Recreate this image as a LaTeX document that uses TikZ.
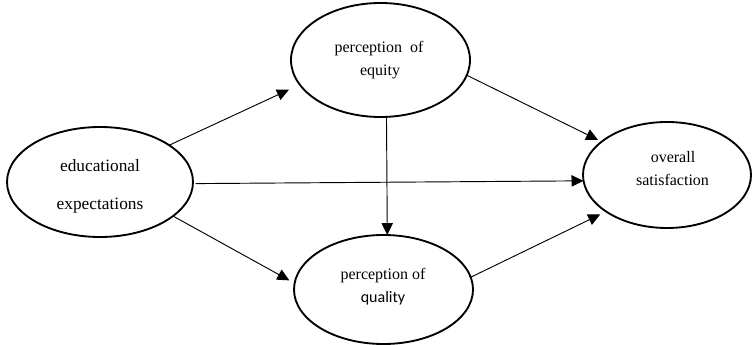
\documentclass[tikz,border=0pt]{standalone}
\usepackage{fontspec}
\setmainfont{Liberation Serif}
\newfontfamily\calibrifont{Carlito}
\usetikzlibrary{shapes.geometric,arrows.meta}
\begin{document}
\begin{tikzpicture}[x=0.75pt,y=-0.75pt,
  latent/.style={draw, ellipse, line width=1.4pt, inner sep=0pt, outer sep=0pt},
  lbl/.style={anchor=base, inner sep=0pt, font=\fontsize{12}{14}\selectfont},
  biglbl/.style={anchor=base, inner sep=0pt, font=\fontsize{13}{15}\selectfont},
  arr/.style={line width=0.7pt, -{Triangle[length=9pt,width=8.5pt]}}]
\useasboundingbox (0,0) rectangle (753,345);
% ellipses
\node[latent, minimum width=139.5pt, minimum height=82.5pt] (e1) at (100,182) {};
\node[latent, minimum width=134.25pt, minimum height=85.5pt] (e2) at (380.5,60) {};
\node[latent, minimum width=134.25pt, minimum height=81.75pt] (e3) at (383.5,289.5) {};
\node[latent, minimum width=126pt, minimum height=79.5pt] (e4) at (667,175) {};
% labels
\node[biglbl] (t1a) at (100,172) {educational};
\node[biglbl] (t1b) at (100,210) {expectations};
\node[lbl] (t2a) at (379,53) {perception\ \ of};
\node[lbl] (t2b) at (380,76) {equity};
\node[lbl] (t3a) at (383,280) {perception of};
\node[lbl, font=\fontsize{12}{14}\calibrifont] (t3b) at (383,302.5) {quality};
\node[lbl] (t4a) at (673,163) {overall};
\node[lbl] (t4b) at (672.5,186) {satisfaction};
% paths
\draw[arr, shorten <=2pt] (e1.-1) -- (e4.184);
\draw[arr, shorten >=9pt] (e1.28) -- (e2.197);
\draw[arr, shorten >=4.5pt] (e1.-25) -- (e3.176);
\draw[arr] (e2.276) -- (e3.86);
\draw[arr, shorten >=3pt] (e2.-10) -- (e4.153);
\draw[arr, shorten >=5pt] (e3.8) -- (e4.211);
\end{tikzpicture}
\end{document}
